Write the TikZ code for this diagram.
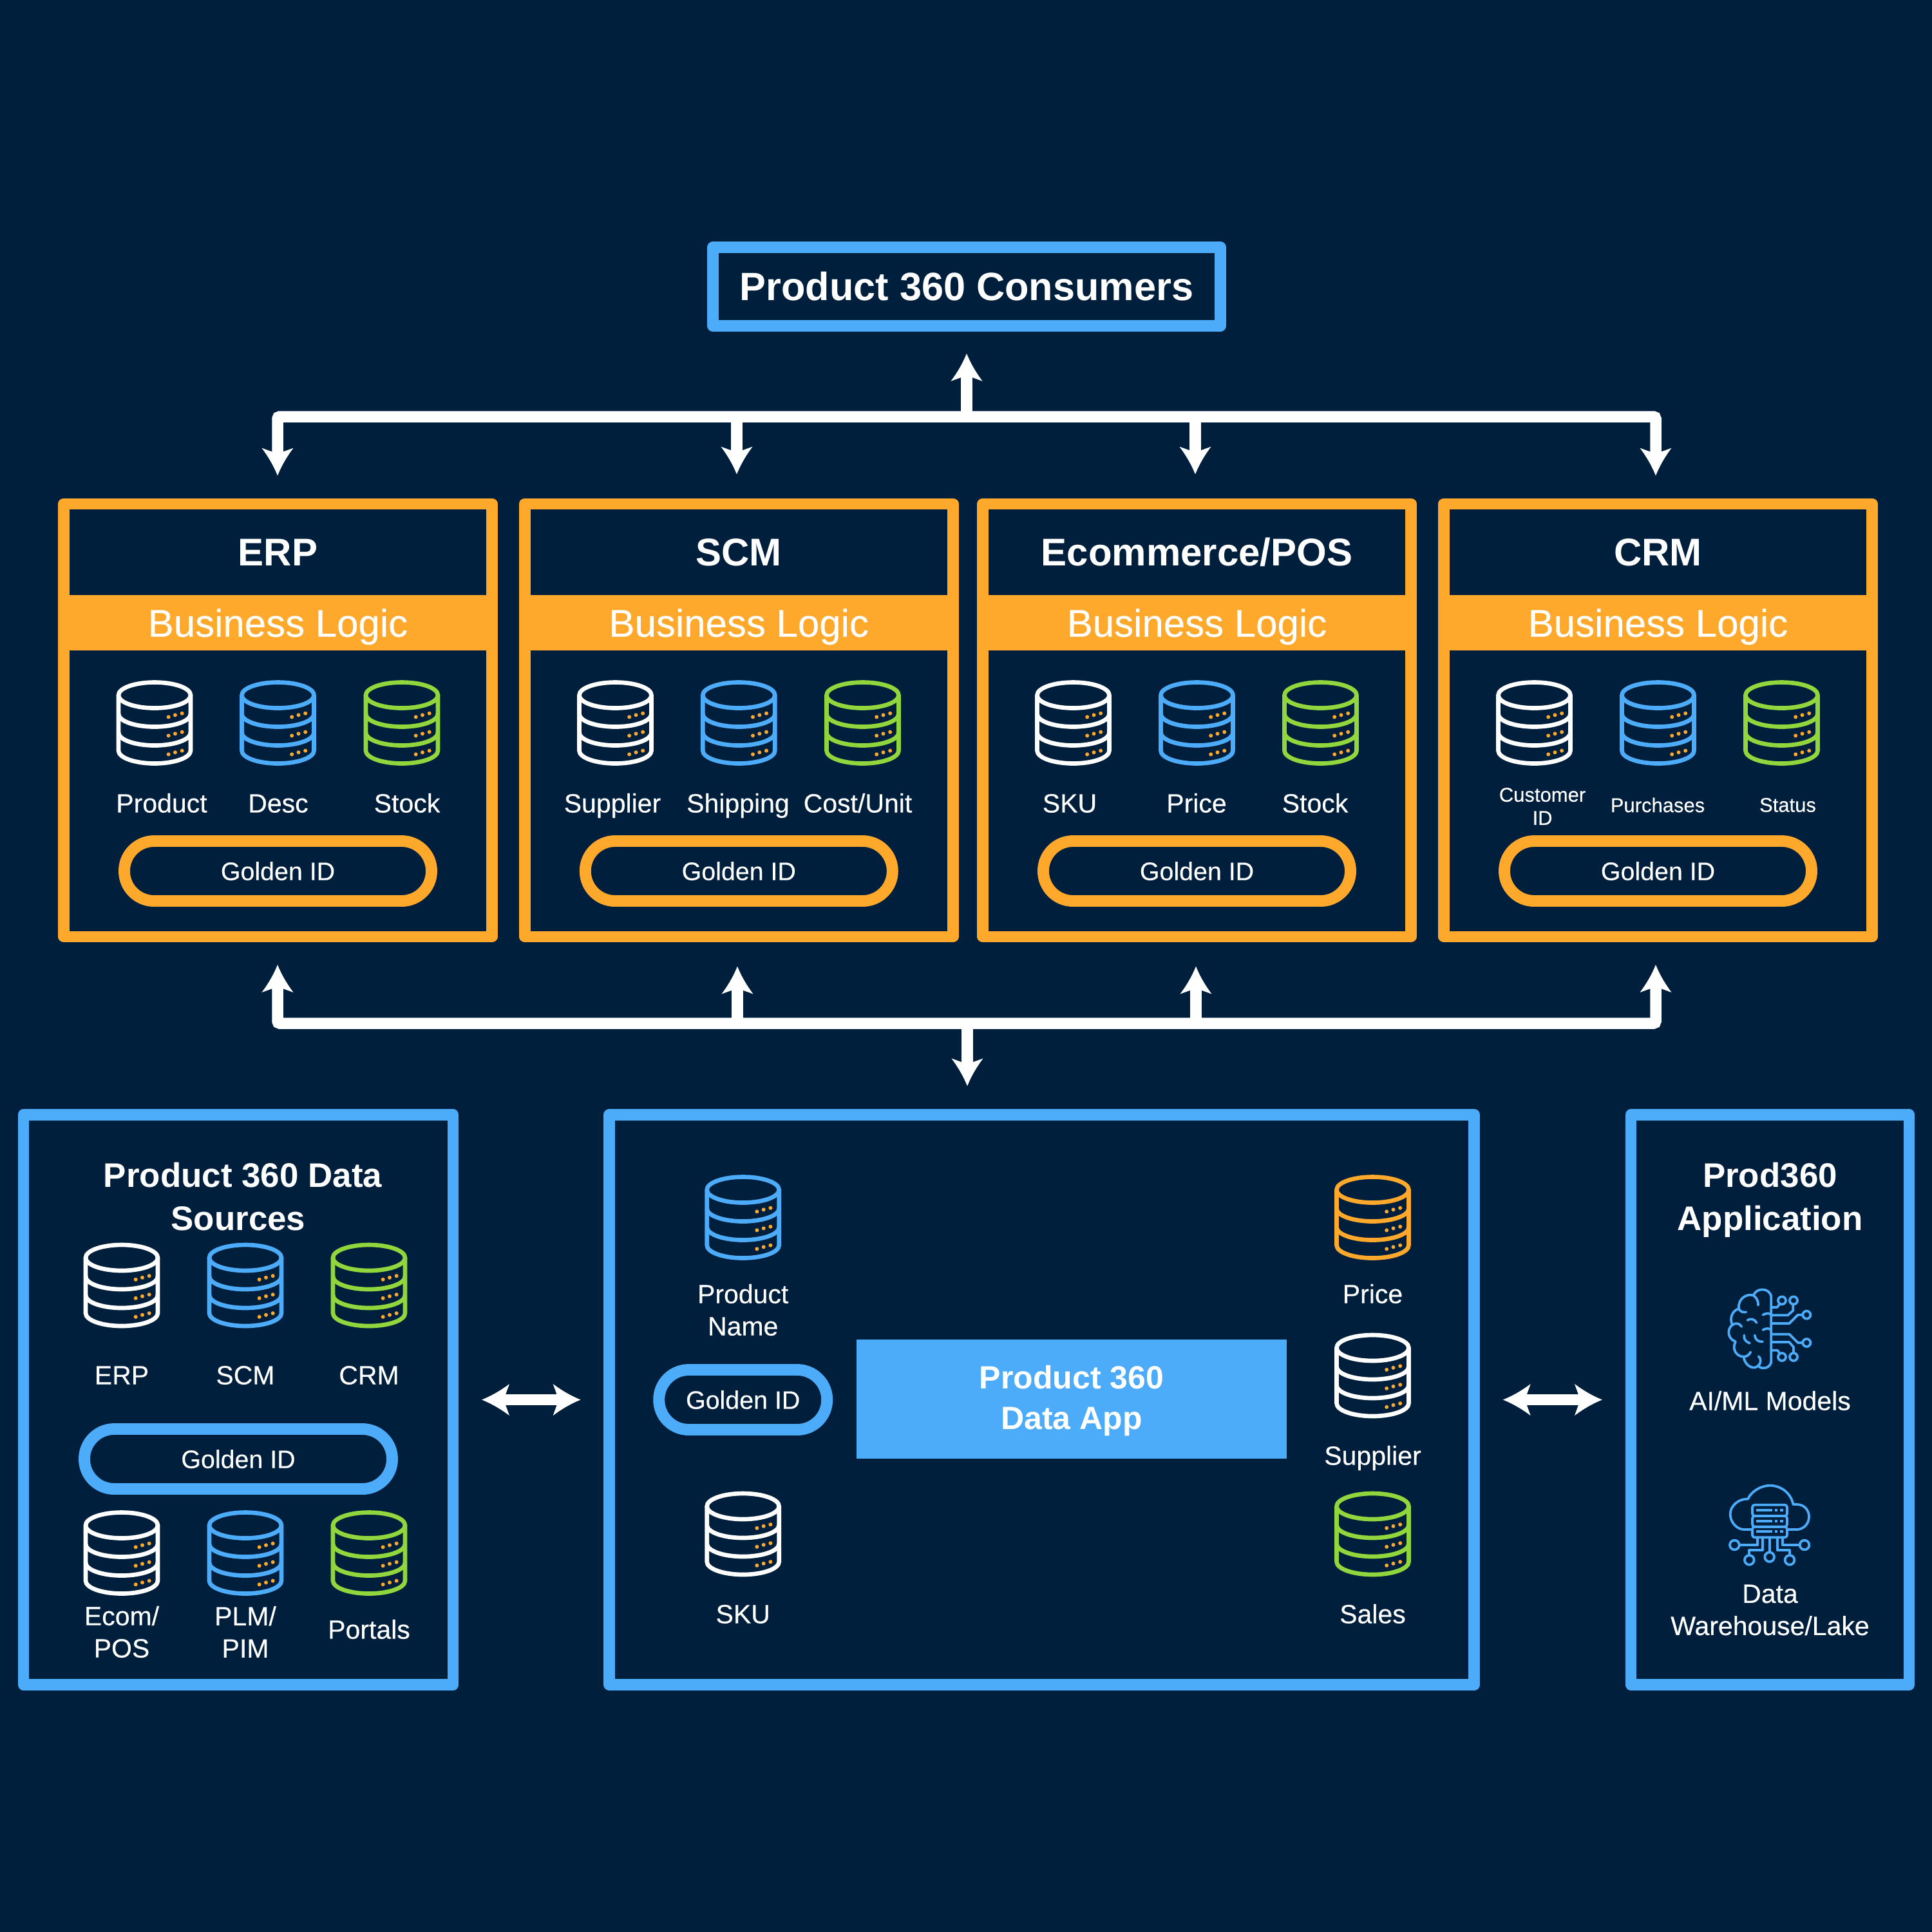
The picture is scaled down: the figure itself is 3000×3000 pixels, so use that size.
\documentclass[tikz,border=0pt]{standalone}
\usepackage{fontspec}
\setmainfont{Liberation Sans}
\newfontfamily\medfont[FakeBold=0.25]{Liberation Sans}
\usetikzlibrary{arrows.meta}

\definecolor{navybg}{RGB}{0,31,60}
\definecolor{skyblue}{RGB}{77,172,249}
\definecolor{amber}{RGB}{255,169,44}
\definecolor{limegreen}{RGB}{146,214,62}

\pgfdeclarearrow{
	name=BusHead,
	setup code={
		\pgfarrowssettipend{0pt}
		\pgfarrowssetlineend{-8.5pt}
		\pgfarrowssetbackend{-10.3pt}
		\pgfarrowssetvisualbackend{-8.5pt}
		\pgfarrowshullpoint{0pt}{0pt}
		\pgfarrowshullpoint{-10.3pt}{5.9pt}
		\pgfarrowshullpoint{-10.3pt}{-5.9pt}
	},
	drawing code={
		\pgfsetfillcolor{white}
		\pgfpathmoveto{\pgfqpoint{0pt}{0pt}}
		\pgfpathcurveto{\pgfqpoint{-3.5pt}{1.4pt}}{\pgfqpoint{-7pt}{3.4pt}}{\pgfqpoint{-10.3pt}{5.9pt}}
		\pgfpathlineto{\pgfqpoint{-8.94pt}{2.14pt}}
		\pgfpathlineto{\pgfqpoint{-8.94pt}{-2.14pt}}
		\pgfpathlineto{\pgfqpoint{-10.3pt}{-5.9pt}}
		\pgfpathcurveto{\pgfqpoint{-7pt}{-3.4pt}}{\pgfqpoint{-3.5pt}{-1.4pt}}{\pgfqpoint{0pt}{0pt}}
		\pgfpathclose
		\pgfusepathqfill
	}
}

\tikzset{
	frame/.style={draw=#1,line width=4.2pt,line join=round,inner sep=0pt},
	pill/.style={draw=#1,line width=4.3pt,rounded corners=11.1pt,inner sep=0pt,minimum height=93*.24pt,text=white,text height=6.8pt,text depth=0pt,font=\medfont\fontsize{9.45}{12}\selectfont},
	lbl/.style={text=white,inner sep=0pt,align=center,font=\medfont\fontsize{9.84}{12}\selectfont},
	onelbl/.style={lbl,text height=7pt,text depth=0pt},
	smalllbl/.style={text=white,inner sep=0pt,align=center,font=\medfont\fontsize{7.44}{8.64}\selectfont},
	boxtitle/.style={text=white,inner sep=0pt,text height=10.4pt,text depth=0pt,font=\bfseries\fontsize{14.4}{17}\selectfont},
	paneltitle/.style={text=white,inner sep=0pt,align=center,font=\bfseries\fontsize{12.7}{16.1}\selectfont},
	logicband/.style={fill=amber,inner sep=0pt,minimum width=648*.24pt,minimum height=86*.24pt,text=white,text height=10.4pt,text depth=0pt,font=\medfont\fontsize{14.4}{17}\selectfont},
	wire/.style={draw=white,line width=4.2pt},
	bustip/.tip={BusHead},
	icon/.style={draw=skyblue,line width=.9pt,line cap=round,line join=round},
	pics/dbicon/.style={code={
		\begin{scope}[yscale=-1]
		\draw[#1,line width=1.6pt] (0,-43) ellipse [x radius=56,y radius=20];
		\draw[#1,line width=1.6pt] (-56,-43) -- (-56,43) arc [start angle=180,end angle=0,x radius=56,y radius=20] -- (56,-43);
		\draw[#1,line width=1.6pt] (-56,-14) arc [start angle=180,end angle=0,x radius=56,y radius=20];
		\draw[#1,line width=1.6pt] (-56,15) arc [start angle=180,end angle=0,x radius=56,y radius=20];
		\fill[amber] (21.7,-9.2) circle [radius=3] (32,-12.2) circle [radius=3] (42.7,-14.8) circle [radius=3];
		\fill[amber] (21.7,19.8) circle [radius=3] (32,16.8) circle [radius=3] (42.7,14.2) circle [radius=3];
		\fill[amber] (21.7,48.8) circle [radius=3] (32,45.8) circle [radius=3] (42.7,43.2) circle [radius=3];
		\end{scope}
	}}
}

\begin{document}
\begin{tikzpicture}[x=0.24pt,y=0.24pt,yscale=-1,xscale=1]
	\useasboundingbox (0,0) rectangle (3000,3000);
	\fill[navybg] (0,0) rectangle (3000,3000);

	%Shape: Consumers box
	\node[frame=skyblue,minimum width=788*.24pt,minimum height=122*.24pt,text=white,font=\bfseries\fontsize{14.7}{18}\selectfont] (consumers) at (1501,445) {Product 360 Consumers};

	%Shape: System boxes
	\node[frame=amber,minimum width=665*.24pt,minimum height=672*.24pt] (erpbox) at (431.5,1118.3) {};
	\node[frame=amber,minimum width=665*.24pt,minimum height=672*.24pt] (scmbox) at (1147.3,1118.3) {};
	\node[frame=amber,minimum width=665*.24pt,minimum height=672*.24pt] (ecombox) at (1858.5,1118.3) {};
	\node[frame=amber,minimum width=665*.24pt,minimum height=672*.24pt] (crmbox) at (2574.5,1118.3) {};

	% Text Node
	\node[boxtitle] (erptitle) at (431.5,857) {ERP};
	\node[boxtitle] (scmtitle) at (1147.3,857) {SCM};
	\node[boxtitle] (ecomtitle) at (1858.5,857) {Ecommerce/POS};
	\node[boxtitle] (crmtitle) at (2574.5,857) {CRM};
	\node[logicband] (erpband) at (431.5,967) {Business Logic};
	\node[logicband] (scmband) at (1147.3,967) {Business Logic};
	\node[logicband] (ecomband) at (1858.5,967) {Business Logic};
	\node[logicband] (crmband) at (2574.5,967) {Business Logic};

	%Shape: Databases, ERP
	\pic at (240,1122.5) {dbicon=white};
	\pic at (431.5,1122.5) {dbicon=skyblue};
	\pic at (624,1122.5) {dbicon=limegreen};
	%Shape: Databases, SCM
	\pic at (955.5,1122.5) {dbicon=white};
	\pic at (1147.3,1122.5) {dbicon=skyblue};
	\pic at (1339.5,1122.5) {dbicon=limegreen};
	%Shape: Databases, Ecommerce
	\pic at (1666.5,1122.5) {dbicon=white};
	\pic at (1858.5,1122.5) {dbicon=skyblue};
	\pic at (2050.5,1122.5) {dbicon=limegreen};
	%Shape: Databases, CRM
	\pic at (2382.5,1122.5) {dbicon=white};
	\pic at (2574.5,1122.5) {dbicon=skyblue};
	\pic at (2766.5,1122.5) {dbicon=limegreen};

	% Text Node
	\node[onelbl] (erpa) at (251,1247) {Product};
	\node[onelbl] (erpb) at (432,1247) {Desc};
	\node[onelbl] (erpc) at (632,1247) {Stock};
	\node[onelbl] (scma) at (951,1247) {Supplier};
	\node[onelbl] (scmb) at (1146,1247) {Shipping};
	\node[onelbl] (scmc) at (1332,1247) {Cost/Unit};
	\node[onelbl] (ecoma) at (1661,1247) {SKU};
	\node[onelbl] (ecomb) at (1858,1247) {Price};
	\node[onelbl] (ecomc) at (2042,1247) {Stock};
	\node[smalllbl] (crma) at (2395,1252) {Customer\\ID};
	\node[smalllbl] (crmb) at (2574,1250) {Purchases};
	\node[smalllbl] (crmc) at (2776,1250) {Status};

	%Shape: Golden ID pills
	\node[pill=amber,minimum width=477*.24pt] (erpgold) at (431.5,1352.5) {Golden ID};
	\node[pill=amber,minimum width=477*.24pt] (scmgold) at (1147.3,1352.5) {Golden ID};
	\node[pill=amber,minimum width=477*.24pt] (ecomgold) at (1858.5,1352.5) {Golden ID};
	\node[pill=amber,minimum width=477*.24pt] (crmgold) at (2574.5,1352.5) {Golden ID};

	%Shape: Lower panels
	\node[frame=skyblue,minimum width=667*.24pt,minimum height=885*.24pt] (sources) at (370,2173.5) {};
	\node[frame=skyblue,minimum width=1343*.24pt,minimum height=885*.24pt] (dataapp) at (1617.7,2173.5) {};
	\node[frame=skyblue,minimum width=432*.24pt,minimum height=885*.24pt] (prodapp) at (2748.5,2173.5) {};

	% Text Node
	\node[paneltitle,text height=9.1pt,text depth=0pt] (sourcesa) at (377,1825) {Product 360 Data};
	\node[paneltitle,text height=9.1pt,text depth=0pt] (sourcesb) at (370,1892) {Sources};

	%Shape: Databases, sources
	\pic at (189,1996) {dbicon=white};
	\pic at (381,1996) {dbicon=skyblue};
	\pic at (573,1996) {dbicon=limegreen};
	\pic at (189,2411.5) {dbicon=white};
	\pic at (381,2411.5) {dbicon=skyblue};
	\pic at (573,2411.5) {dbicon=limegreen};

	% Text Node
	\node[onelbl] (srcerp) at (189,2135) {ERP};
	\node[onelbl] (srcscm) at (381,2135) {SCM};
	\node[onelbl] (srccrm) at (573,2135) {CRM};
	\node[pill=skyblue,minimum width=478*.24pt] (srcgold) at (370,2265.5) {Golden ID};
	\node[lbl] (srcecom) at (189,2534) {Ecom/\\POS};
	\node[lbl] (srcplm) at (381,2534) {PLM/\\PIM};
	\node[onelbl] (srcportal) at (573,2530) {Portals};

	%Shape: Databases, data app
	\pic at (1153.7,1890.5) {dbicon=skyblue};
	\pic at (1153.7,2382) {dbicon=white};
	\pic at (2131.5,1890.5) {dbicon=amber};
	\pic at (2131.5,2136) {dbicon=white};
	\pic at (2131.5,2382) {dbicon=limegreen};

	% Text Node
	\node[lbl] (appname) at (1153.7,2034) {Product\\Name};
	\node[pill=skyblue,minimum width=261*.24pt] (appgold) at (1153.7,2173.5) {Golden ID};
	\node[onelbl] (appsku) at (1153.7,2506) {SKU};
	\node[onelbl] (appprice) at (2131.5,2009) {Price};
	\node[onelbl] (appsupplier) at (2131.5,2260) {Supplier};
	\node[onelbl] (appsales) at (2131.5,2506) {Sales};
	\node[fill=skyblue,inner sep=0pt,minimum width=667.5*.24pt,minimum height=185*.24pt,text=white,align=center,font=\bfseries\fontsize{12}{15.1}\selectfont] (appcore) at (1664,2172.5) {\rule{0pt}{9.8pt}Product 360\\Data App};

	% Text Node
	\node[paneltitle] (prodtitle) at (2748.5,1863) {Prod360\\Application};
	\node[onelbl] (prodai) at (2748.5,2175) {AI/ML Models};
	\node[lbl] (proddw) at (2748.5,2500) {Data\\Warehouse/Lake};

	%Shape: Brain with circuit
	\begin{scope}[shift={(2640,1970)},scale=1/3]
		\draw[icon] (331,440) -- (331,135) .. controls (331,110) and (310,97) .. (290,97) .. controls (270,97) and (255,108) .. (248,124) .. controls (215,115) and (175,140) .. (180,186) .. controls (150,195) and (135,230) .. (150,262) .. controls (125,280) and (125,325) .. (165,340) .. controls (145,375) and (170,410) .. (203,410) .. controls (205,450) and (250,475) .. (270,452) .. controls (290,475) and (331,460) .. (331,430);
		\draw[icon] (248,124) .. controls (262,135) and (272,150) .. (270,170);
		\draw[icon] (180,186) .. controls (185,200) and (200,205) .. (214,202);
		\draw[icon] (150,262) .. controls (165,250) and (185,255) .. (193,270);
		\draw[icon] (203,410) .. controls (218,410) and (230,400) .. (235,388);
		\draw[icon] (270,452) .. controls (285,440) and (285,420) .. (272,408);
		\draw[icon] (292,215) .. controls (305,208) and (320,206) .. (331,212);
		\draw[icon] (292,285) .. controls (305,278) and (320,276) .. (331,285);
		\draw[icon] (220,240) .. controls (235,230) and (255,235) .. (263,252);
		\draw[icon] (205,310) .. controls (202,330) and (215,342) .. (231,347);
		\draw[icon] (254,310) .. controls (255,330) and (272,342) .. (291,340);
		\draw[icon] (331,180) -- (358,180) -- (370,166);
		\draw[icon] (331,217) -- (408,217) -- (433,195) -- (433,170);
		\draw[icon] (331,255) -- (415,255) -- (455,215) -- (475,215);
		\draw[icon] (331,305) -- (415,305) -- (455,345) -- (475,345);
		\draw[icon] (331,342) -- (415,342) -- (435,365) -- (435,390);
		\draw[icon] (331,380) -- (360,380) -- (370,394);
		\draw[icon] (381,148) circle [radius=18];
		\draw[icon] (435,148) circle [radius=18];
		\draw[icon] (496,215) circle [radius=18];
		\draw[icon] (496,345) circle [radius=18];
		\draw[icon] (435,411) circle [radius=18];
		\draw[icon] (381,411) circle [radius=18];
	\end{scope}

	%Shape: Cloud with server rack
	\begin{scope}[shift={(2640,2280)},scale=1/3]
		\draw[icon] (240,285) -- (205,285) .. controls (170,285) and (140,250) .. (140,213) .. controls (140,175) and (180,140) .. (222,143) .. controls (240,105) and (285,80) .. (325,80) .. controls (380,80) and (425,120) .. (433,168) -- (450,168) .. controls (485,168) and (507,195) .. (507,225) .. controls (507,260) and (480,285) .. (450,285) -- (408,285);
		\draw[icon,rounded corners=.9pt] (243,170) rectangle (405,222);
		\draw[icon,rounded corners=.9pt] (243,222) rectangle (405,272);
		\draw[icon,rounded corners=.9pt] (243,272) rectangle (405,322);
		\foreach \rowy in {195,245,295} {
			\fill[skyblue] (262,\rowy-6) rectangle (335,\rowy+6);
			\fill[skyblue] (347,\rowy-6) rectangle (360,\rowy+6);
			\fill[skyblue] (373,\rowy-6) rectangle (386,\rowy+6);
		}
		\draw[icon] (268,322) -- (268,357) -- (184,357);
		\draw[icon] (290,322) -- (290,382) -- (229,382) -- (229,405);
		\draw[icon] (323,322) -- (323,391);
		\draw[icon] (360,322) -- (360,382) -- (417,382) -- (417,405);
		\draw[icon] (385,322) -- (385,357) -- (463,357);
		\draw[icon] (160,357) circle [radius=22];
		\draw[icon] (229,427) circle [radius=22];
		\draw[icon] (323,413) circle [radius=22];
		\draw[icon] (417,427) circle [radius=22];
		\draw[icon] (486,357) circle [radius=22];
	\end{scope}

	% Upper bus
	\coordinate (uperp) at (431,647);
	\coordinate (upscm) at (1144,647);
	\coordinate (upmid) at (1501,647);
	\coordinate (upecom) at (1856,647);
	\coordinate (upcrm) at (2571,647);
	\draw[wire,rounded corners=.8pt,bustip-bustip,shorten <=8.4pt,shorten >=8.4pt] (uperp |- erpbox.north) -- (uperp) -- (upcrm) -- (upcrm |- crmbox.north);
	\draw[wire,-bustip,shorten >=8.9pt] (upscm) -- (upscm |- scmbox.north);
	\draw[wire,-bustip,shorten >=8.9pt] (upecom) -- (upecom |- ecombox.north);
	\draw[wire,-bustip,shorten >=8.2pt] (upmid) -- (upmid |- consumers.south);

	% Lower bus
	\coordinate (loerp) at (431,1589);
	\coordinate (loscm) at (1145,1589);
	\coordinate (lomid) at (1502,1589);
	\coordinate (loecom) at (1857,1589);
	\coordinate (locrm) at (2571,1589);
	\draw[wire,rounded corners=.8pt,bustip-bustip,shorten <=8.4pt,shorten >=8.4pt] (loerp |- erpbox.south) -- (loerp) -- (locrm) -- (locrm |- crmbox.south);
	\draw[wire,-bustip,shorten >=9pt] (loscm) -- (loscm |- scmbox.south);
	\draw[wire,-bustip,shorten >=9pt] (loecom) -- (loecom |- ecombox.south);
	\draw[wire,-bustip,shorten >=8.6pt] (lomid) -- (lomid |- dataapp.north);

	% Side arrows
	\draw[wire,bustip-bustip,shorten <=8.6pt,shorten >=8.6pt] (sources.east) -- (dataapp.west);
	\draw[wire,bustip-bustip,shorten <=8.6pt,shorten >=8.6pt] (dataapp.east) -- (prodapp.west);
\end{tikzpicture}
\end{document}
